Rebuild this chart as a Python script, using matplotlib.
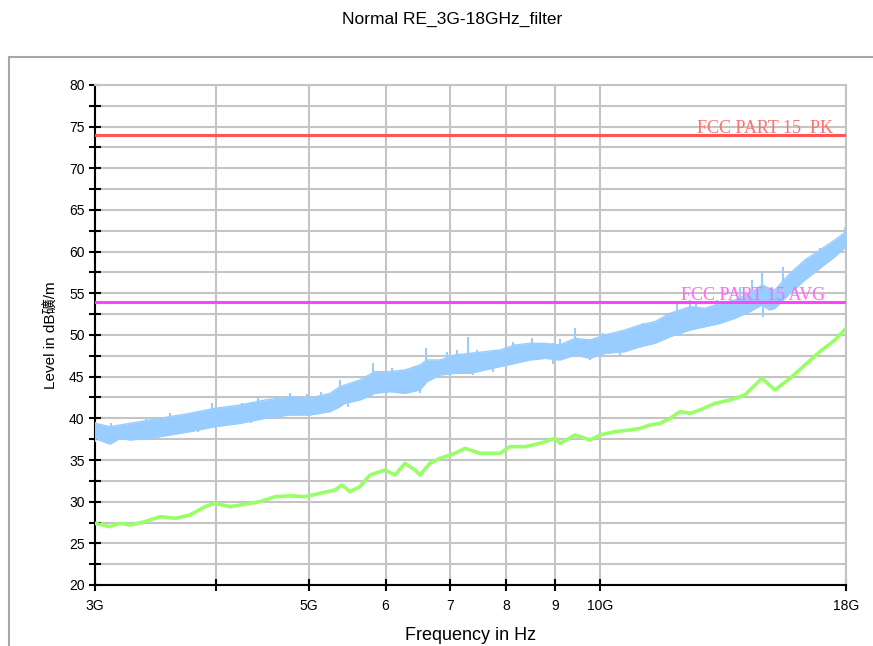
import matplotlib
matplotlib.use("Agg")
import matplotlib.pyplot as plt
from matplotlib.patches import Rectangle
from matplotlib.ticker import FixedLocator, NullFormatter

# peak detector trace (GHz, dB), read as upper / lower edge of the band
peak_freq = [3.00, 3.109, 3.184, 3.261, 3.420, 3.588, 3.763, 3.994, 4.240, 4.500,
             4.777, 5.010, 5.255, 5.381, 5.446, 5.644, 5.850, 6.063, 6.284, 6.513,
             6.623, 6.831, 7.080, 7.338, 7.605, 7.882, 8.172, 8.470, 8.778, 9.098,
             9.430, 9.773, 10.13, 10.62, 11.01, 11.41, 11.83, 12.41, 12.86, 13.33,
             13.81, 14.31, 14.73, 15.00, 15.19, 15.75, 16.32, 16.91, 17.53, 18.0]
peak_hi = [39.4, 39.0, 39.2, 39.4, 39.8, 40.2, 40.6, 41.2, 41.6, 42.2,
           42.6, 42.4, 43.0, 43.8, 44.0, 44.6, 45.6, 45.6, 45.8, 46.4,
           47.0, 47.0, 47.6, 47.8, 48.0, 48.2, 48.8, 49.0, 49.0, 48.8,
           49.6, 49.4, 50.0, 50.6, 51.2, 51.6, 52.6, 53.4, 53.2, 53.8,
           54.2, 55.0, 56.0, 55.6, 55.4, 57.4, 59.0, 60.2, 61.4, 62.4]
peak_lo = [37.6, 36.9, 37.6, 37.4, 37.6, 38.0, 38.4, 39.0, 39.4, 40.0,
           40.4, 40.4, 40.8, 41.4, 41.8, 42.2, 43.0, 43.2, 43.0, 43.4,
           44.4, 45.2, 45.4, 45.4, 45.8, 46.2, 46.6, 47.0, 47.2, 47.0,
           47.6, 47.2, 47.8, 48.0, 48.6, 49.0, 49.8, 50.6, 51.0, 51.4,
           52.0, 52.8, 53.6, 53.0, 53.2, 55.0, 56.6, 58.0, 59.4, 60.6]

# single spikes sticking out of the peak band (up and down)
spike_up_freq = [3.00, 3.39, 3.588, 3.97, 4.26, 4.43, 4.78, 4.97, 5.15, 5.38,
                 5.82, 6.09, 6.44, 6.61, 7.12, 7.30, 7.46, 8.13, 8.51, 8.95,
                 9.43, 10.07, 11.09, 11.62, 12.03, 12.41, 12.59, 13.23, 13.97, 14.37,
                 14.73, 15.48, 16.40, 16.91, 17.97]
spike_up_top = [39.6, 40.0, 40.6, 41.8, 41.8, 42.4, 43.0, 42.8, 43.2, 44.6,
                46.6, 46.0, 46.2, 48.4, 48.2, 49.8, 48.2, 49.2, 49.6, 49.0,
                50.8, 50.2, 51.4, 52.0, 53.8, 54.2, 54.0, 54.2, 55.8, 56.6,
                57.4, 58.2, 59.2, 60.4, 63.0]
spike_dn_freq = [3.12, 3.44, 3.84, 4.35, 4.97, 5.49, 6.36, 6.51, 6.94, 7.39,
                 7.75, 9.10, 9.77, 10.49, 11.0, 12.1, 14.76, 15.1]
spike_dn_bot = [36.9, 37.4, 38.4, 39.4, 40.4, 41.4, 43.2, 43.0, 45.4, 45.2,
                45.6, 47.0, 47.0, 47.6, 48.4, 50.0, 52.2, 53.0]

# average detector trace
avg_freq = [3.00, 3.109, 3.184, 3.261, 3.380, 3.503, 3.631, 3.763, 3.900, 3.994,
            4.140, 4.291, 4.447, 4.609, 4.777, 4.951, 5.131, 5.318, 5.407, 5.511,
            5.644, 5.781, 5.992, 6.136, 6.284, 6.436, 6.513, 6.670, 6.831, 7.080,
            7.251, 7.515, 7.696, 7.882, 8.075, 8.369, 8.674, 8.990, 9.098, 9.430,
            9.773, 10.01, 10.37, 10.75, 11.01, 11.28, 11.55, 11.83, 12.11, 12.41,
            12.70, 13.17, 13.65, 14.14, 14.73, 15.19, 15.75, 16.32, 16.91, 17.53, 18.0]
avg_val = [27.4, 27.0, 27.4, 27.2, 27.6, 28.2, 28.0, 28.4, 29.4, 29.8,
           29.4, 29.7, 30.0, 30.6, 30.7, 30.6, 31.0, 31.4, 32.0, 31.2,
           31.8, 33.2, 33.8, 33.2, 34.6, 33.8, 33.2, 34.6, 35.2, 35.8,
           36.4, 35.8, 35.8, 35.8, 36.6, 36.6, 37.0, 37.6, 37.0, 38.0,
           37.4, 38.0, 38.4, 38.6, 38.8, 39.2, 39.4, 40.0, 40.8, 40.6,
           41.0, 41.8, 42.2, 42.8, 44.8, 43.4, 44.8, 46.4, 48.0, 49.4, 50.8]

limit_pk = 74
limit_avg = 54

x_ticks = [3, 4, 5, 6, 7, 8, 9, 10, 18]
x_labels = ["3G", "", "5G", "6", "7", "8", "9", "10G", "18G"]

plt.rcParams['font.family'] = ['Liberation Sans', 'Noto Sans CJK SC', 'DejaVu Sans']

fig = plt.figure(figsize=(8.73, 6.46), dpi=100)
W, H = 873.0, 646.0

# outer panel frame
fig.patches.append(Rectangle((9 / W, -0.1), 1.0, 1 - 57 / H + 0.1, transform=fig.transFigure,
                             facecolor="white", edgecolor="#a8a8a8", lw=1.5, zorder=-5))

ax = fig.add_axes([95 / W, 1 - 585 / H, 751 / W, 500 / H])
ax.set_xscale("log")
ax.set_xlim(3, 18)
ax.set_ylim(20, 80)

grid_c = "#c4c4c4"
ax.yaxis.set_major_locator(FixedLocator(list(range(20, 81, 5))))
ax.yaxis.set_minor_locator(FixedLocator([22.5 + 5 * i for i in range(12)]))
ax.xaxis.set_major_locator(FixedLocator(x_ticks))
ax.xaxis.set_minor_locator(FixedLocator([]))
ax.set_xticklabels(x_labels)
ax.yaxis.set_minor_formatter(NullFormatter())
ax.xaxis.set_minor_formatter(NullFormatter())
ax.grid(True, which="both", axis="y", color=grid_c, lw=1.5)
ax.grid(True, which="major", axis="x", color=grid_c, lw=1.5)
ax.set_axisbelow(True)

ax.tick_params(axis="both", which="both", direction="inout", length=8, width=1.5,
               color="black", labelsize=10)
ax.tick_params(axis="x", pad=6)
for s in ["left", "bottom"]:
    ax.spines[s].set_color("black")
    ax.spines[s].set_linewidth(1.5)
for s in ["top", "right"]:
    ax.spines[s].set_color(grid_c)
    ax.spines[s].set_linewidth(1.5)

blue = "#99ccff"
green = "#99ff66"
ax.fill_between(peak_freq, peak_lo, peak_hi, color=blue, lw=0, zorder=3)
ax.plot(peak_freq, peak_hi, color=blue, lw=1.0, zorder=3)
ax.plot(peak_freq, peak_lo, color=blue, lw=1.0, zorder=3)
ax.vlines(spike_up_freq, [t - 2.5 for t in spike_up_top], spike_up_top,
          color=blue, lw=1.5, zorder=3)
ax.vlines(spike_dn_freq, spike_dn_bot, [b + 2.5 for b in spike_dn_bot],
          color=blue, lw=1.5, zorder=3)
ax.plot(avg_freq, avg_val, color=green, lw=2.6, zorder=4)

ax.axhline(limit_pk, color="#ff5555", lw=2.2, zorder=5)
ax.axhline(limit_avg, color="#ff44ff", lw=2.2, zorder=5)
ax.text(17.45, limit_pk + 0.25, "FCC PART 15  PK", color="#ff7070", fontsize=13,
        family="Liberation Serif", ha="right", va="baseline", zorder=6)
ax.text(17.12, limit_avg + 0.15, "FCC PART 15 AVG", color="#ff66ff", fontsize=13,
        family="Liberation Serif", ha="right", va="baseline", zorder=6)

fig.text(452 / W, 1 - 19 / H, "Normal RE_3G-18GHz_filter", ha="center", va="center",
         fontsize=12.5)
ax.set_xlabel("Frequency in Hz", fontsize=13, labelpad=10)
ax.set_ylabel("Level in dB礦/m", fontsize=11, labelpad=8)

fig.savefig("out.png", dpi=100)
